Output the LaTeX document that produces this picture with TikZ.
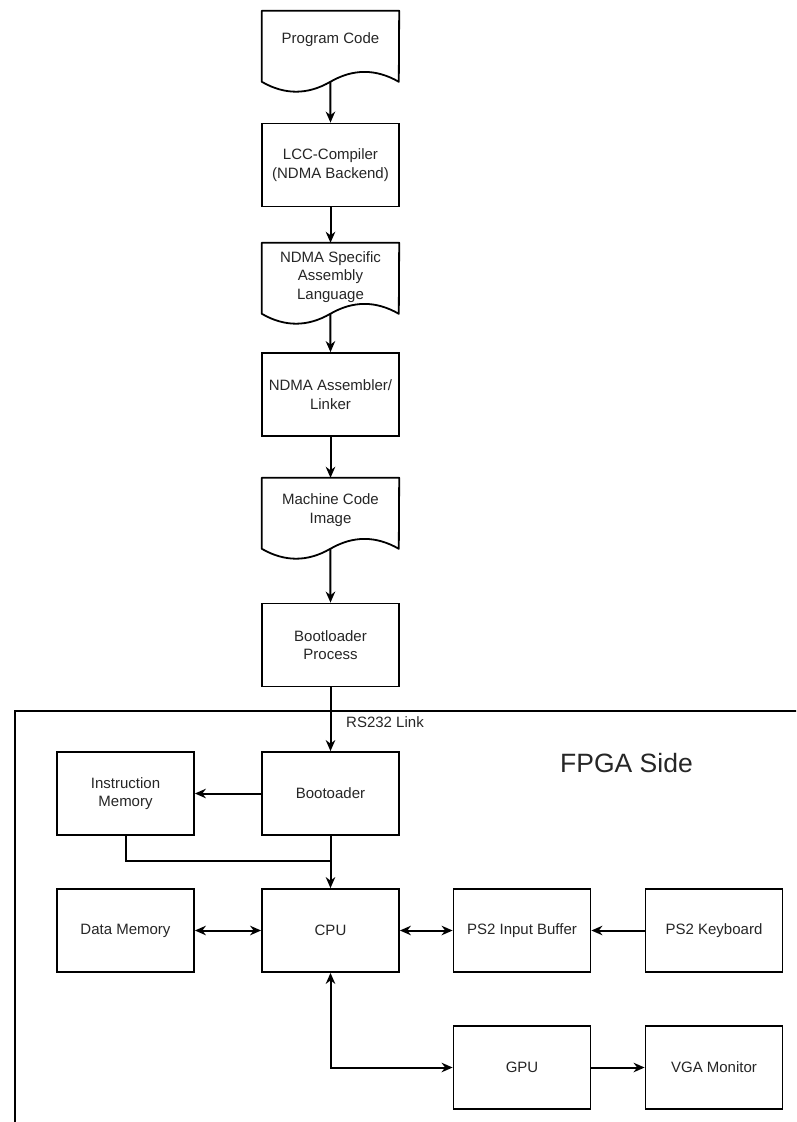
\documentclass[tikz,border=0pt]{standalone}
\usepackage{fontspec}
\setmainfont{Liberation Sans}
\usetikzlibrary{calc,arrows.meta}

\tikzset{
  every node/.style={font=\fontsize{15}{18.3}\selectfont, text=black!85},
  box/.style={draw, line width=1.8pt, minimum width=137pt, minimum height=83pt, inner sep=0pt, align=center},
  docbox/.style={minimum width=137pt, minimum height=82pt, inner sep=0pt},
  doctext/.style={align=center, inner sep=0pt},
  conn/.style={draw, line width=2pt, -{Stealth[length=11pt,width=9.5pt,inset=3.5pt]}},
  dconn/.style={draw, line width=2pt, {Stealth[length=11pt,width=9.5pt,inset=3.5pt]}-{Stealth[length=11pt,width=9.5pt,inset=3.5pt]}},
  plainline/.style={draw, line width=2pt},
}

% outline of a document shape with a wavy lower edge, drawn on a docbox node
\newcommand{\docoutline}[1]{%
  \draw[line width=1.8pt, line join=round]
    (#1.north west) -- (#1.north east) -- ($(#1.north west)+(137,71)$)
    .. controls ($(#1.north west)+(114.17,57.8)$) and ($(#1.north west)+(91.33,57.8)$) .. ($(#1.north west)+(68.5,71)$)
    .. controls ($(#1.north west)+(45.67,84.2)$) and ($(#1.north west)+(22.83,84.2)$) .. ($(#1.north west)+(0,71)$)
    -- cycle;
  \coordinate (#1-b) at ($(#1.north west)+(68.5,71)$);
}

\begin{document}
\begin{tikzpicture}[x=1pt, y=-1pt]
\useasboundingbox (0,0) rectangle (796,1122);
\clip (0,0) rectangle (796,1122);
\fill[white] (0,0) rectangle (796,1122);

% FPGA frame (runs off the right and bottom edges)
\path[plainline] (15,1140) -- (15,710.7) -- (810,710.7);

% software tool chain
\node[docbox] (prog) at (330.5,52) {};
\docoutline{prog}
\node[doctext] (prog-t) at (330.5,40) {Program Code};

\node[box] (lcc) at (330.5,165) {LCC-Compiler\\(NDMA Backend)};

\node[docbox] (ndma) at (330.5,284) {};
\docoutline{ndma}
\node[doctext] (ndma-t) at (330.5,277) {NDMA Specific\\Assembly\\Language};

\node[box] (asm) at (330.5,394.5) {NDMA Assembler/\\Linker};

\node[docbox] (mach) at (330.5,519) {};
\docoutline{mach}
\node[doctext] (mach-t) at (330.5,510) {Machine Code\\Image};

\node[box] (bootp) at (330.5,645) {Bootloader\\Process};

% FPGA side
\node[font=\fontsize{26.5}{30}\selectfont] (fpga) at (626.5,763) {FPGA Side};
\node (rs) at (385,722) {RS232 Link};

\node[box] (boot) at (330.5,793.5) {Bootoader};
\node[box] (imem) at (125.5,793.5) {Instruction\\Memory};
\node[box] (dmem) at (125.5,930.5) {Data Memory};
\node[box] (cpu)  at (330.5,930.5) {CPU};
\node[box] (ps2b) at (522,930.5) {PS2 Input Buffer};
\node[box] (ps2k) at (714,930.5) {PS2 Keyboard};
\node[box] (gpu)  at (522,1067.5) {GPU};
\node[box] (vga)  at (714,1067.5) {VGA Monitor};

\coordinate (jn) at (330.5,861);

% connectors
\path[conn] (prog-b) -- (lcc.north);
\path[conn] (lcc.south) -- (ndma.north);
\path[conn] (ndma-b) -- (asm.north);
\path[conn] (asm.south) -- (mach.north);
\path[conn] (mach-b) -- (bootp.north);
\path[conn] (bootp.south) -- (boot.north);
\path[conn] (boot.west) -- (imem.east);
\path[plainline] (imem.south) |- (jn);
\path[conn] (boot.south) -- (cpu.north);
\path[dconn] (dmem.east) -- (cpu.west);
\path[dconn] (cpu.east) -- (ps2b.west);
\path[conn] (ps2k.west) -- (ps2b.east);
\path[dconn] (cpu.south) |- (gpu.west);
\path[conn] (gpu.east) -- (vga.west);
\end{tikzpicture}
\end{document}
